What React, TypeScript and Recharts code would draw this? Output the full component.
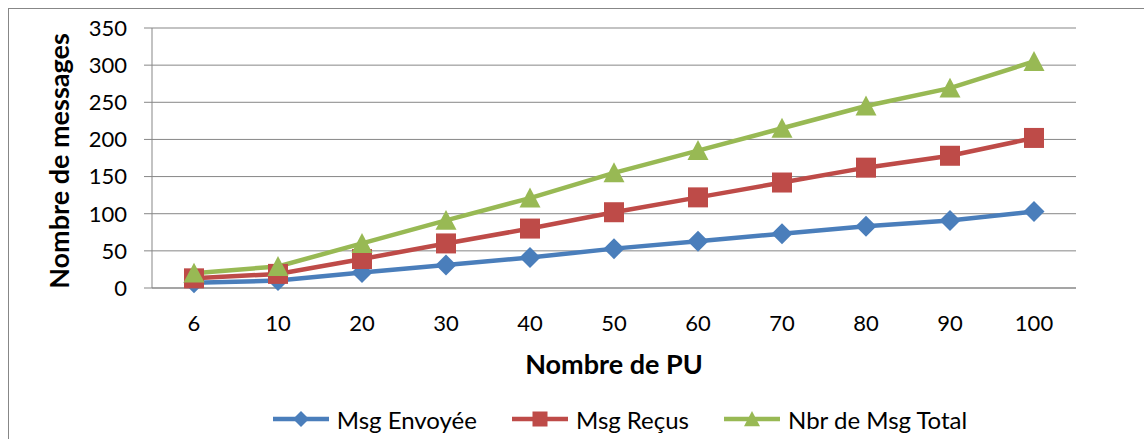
import React from 'react';
import {
  LineChart,
  Line,
  CartesianGrid,
  XAxis,
  YAxis,
  Legend,
} from 'recharts';

const puCounts = ['6', '10', '20', '30', '40', '50', '60', '70', '80', '90', '100'];
const msgEnvoyee = [7, 10, 21, 31, 41, 53, 63, 73, 83, 91, 103];
const msgRecus = [13, 19, 39, 60, 80, 102, 122, 142, 162, 178, 202];
const msgTotal = [20, 29, 60, 91, 121, 155, 185, 215, 245, 269, 305];
const yTicks = [0, 50, 100, 150, 200, 250, 300, 350];

const FONT = 'Lato, "Open Sans", sans-serif';
const GRID = '#878787';

const series = [
  { key: 'envoyee', name: 'Msg Envoyée', color: '#4a7ebb', marker: 'diamond' },
  { key: 'recus', name: 'Msg Reçus', color: '#be4b48', marker: 'square' },
  { key: 'total', name: 'Nbr de Msg Total', color: '#98b954', marker: 'triangle' },
];

const data = puCounts.map((pu, i) => ({
  pu,
  envoyee: msgEnvoyee[i],
  recus: msgRecus[i],
  total: msgTotal[i],
}));

function Marker({ type, cx, cy, color, r = 10.5 }: any) {
  if (type === 'diamond') {
    return (
      <polygon
        points={`${cx},${cy - r} ${cx + r},${cy} ${cx},${cy + r} ${cx - r},${cy}`}
        fill={color}
      />
    );
  }
  if (type === 'square') {
    return <rect x={cx - r + 0.5} y={cy - r + 0.5} width={2 * r - 1} height={2 * r - 1} fill={color} />;
  }
  return (
    <polygon
      points={`${cx},${cy - r} ${cx + r},${cy + r * 0.9} ${cx - r},${cy + r * 0.9}`}
      fill={color}
    />
  );
}

function LegendContent() {
  return (
    <div
      style={{
        height: 30,
        display: 'flex',
        justifyContent: 'center',
        alignItems: 'center',
        paddingLeft: 96,
        fontFamily: FONT,
        fontSize: 24,
        color: '#000',
      }}
    >
      {series.map((s, i) => (
        <div
          key={s.key}
          style={{ display: 'flex', alignItems: 'center', marginLeft: i === 0 ? 0 : 35 }}
        >
          <svg width={56} height={24} style={{ marginRight: 8 }}>
            <line x1={0} y1={12} x2={56} y2={12} stroke={s.color} strokeWidth={4.5} />
            <Marker type={s.marker} cx={28} cy={12} color={s.color} r={8} />
          </svg>
          <span>{s.name}</span>
        </div>
      ))}
    </div>
  );
}

export default function App() {
  return (
    <div
      style={{
        position: 'absolute',
        left: 0,
        top: 0,
        width: 1144,
        height: 439,
        overflow: 'hidden',
        background: '#fff',
      }}
    >
      <div
        style={{
          position: 'absolute',
          left: 8,
          top: 8,
          width: 1160,
          height: 460,
          border: `1px solid ${GRID}`,
        }}
      />
      <LineChart
        width={1144}
        height={439}
        data={data}
        margin={{ top: 28, right: 68, left: 0, bottom: 91 }}
        style={{ position: 'absolute', left: 0, top: 0 }}
      >
        <CartesianGrid stroke={GRID} vertical={false} />
        <XAxis
          dataKey="pu"
          height={30}
          padding={{ left: 42, right: 42 }}
          stroke={GRID}
          tickLine={false}
          tickSize={0}
          tickMargin={27}
          tick={{ fill: '#000', fontSize: 22, fontFamily: FONT }}
          label={{
            content: ({ viewBox }: any) => (
              <text
                x={viewBox.x + viewBox.width / 2}
                y={374}
                textAnchor="middle"
                fontFamily={FONT}
                fontWeight={700}
                fontSize={27}
                fill="#000"
              >
                Nombre de PU
              </text>
            ),
          }}
        />
        <YAxis
          width={152}
          domain={[0, 350]}
          ticks={yTicks}
          interval={0}
          stroke={GRID}
          tickSize={8}
          tickMargin={17}
          tick={{ fill: '#000', fontSize: 22, fontFamily: FONT }}
          label={{
            content: () => (
              <text
                x={69}
                y={161}
                transform="rotate(-90 69 161)"
                textAnchor="middle"
                fontFamily={FONT}
                fontWeight={700}
                fontSize={27}
                fill="#000"
              >
                Nombre de messages
              </text>
            ),
          }}
        />
        <Legend
          verticalAlign="bottom"
          content={() => <LegendContent />}
          wrapperStyle={{ left: 0, top: 404, width: 1144 }}
        />
        {series.map((s) => (
          <Line
            key={s.key}
            dataKey={s.key}
            name={s.name}
            type="linear"
            stroke={s.color}
            strokeWidth={4.5}
            isAnimationActive={false}
            dot={(p: any) => (
              <Marker key={`${s.key}-${p.index}`} type={s.marker} cx={p.cx} cy={p.cy} color={s.color} />
            )}
            activeDot={false}
          />
        ))}
      </LineChart>
    </div>
  );
}
